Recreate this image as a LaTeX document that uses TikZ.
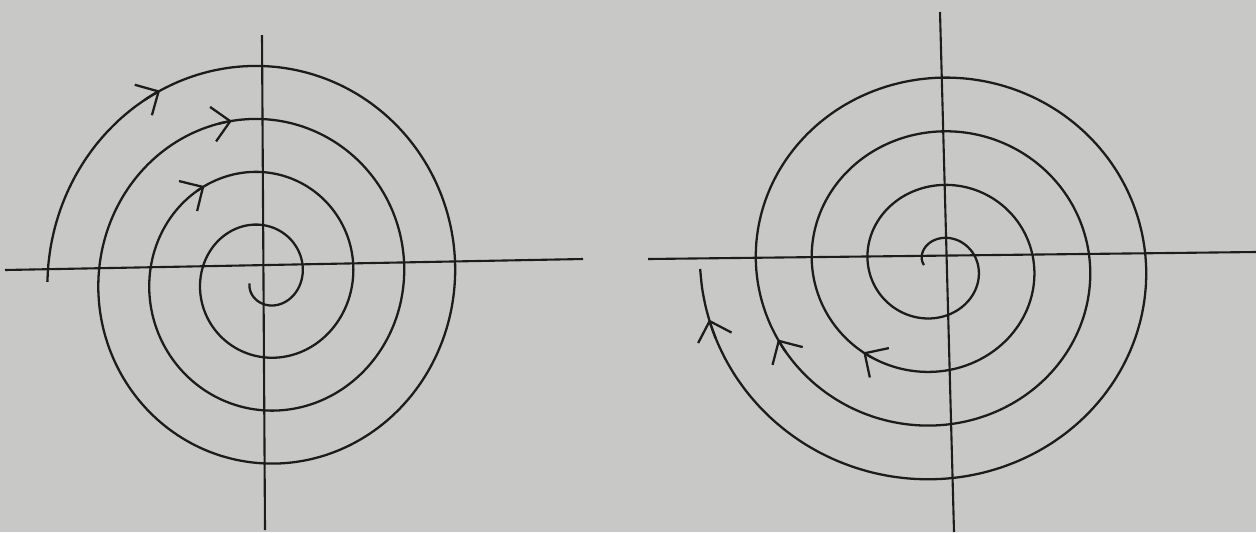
\documentclass[tikz,border=0pt]{standalone}
\usepackage{tikz}
\usetikzlibrary{arrows.meta}
\definecolor{paper}{RGB}{200,200,198}
\definecolor{ink}{RGB}{28,28,28}

\begin{document}
\begin{tikzpicture}[
  x=0.02cm, y=-0.02cm,
  >={Straight Barb[length=3.5mm, width=7mm]},
  declare function={rl(\t)=38+0.1417*\t; rr(\t)=41+0.1556*\t;},
  axis/.style={draw=ink, line width=1.2pt},
  curve/.style={draw=ink, line width=1.3pt, line join=round},
  flow/.style={curve, ->},
]
\path[use as bounding box, fill=paper] (0,0) rectangle (1256,532);

% left portrait: spiral closing in on the origin
\coordinate (lw) at (5,270);
\coordinate (le) at (583,259);
\coordinate (ln) at (262,35);
\coordinate (ls) at (265,530);
\draw[axis] (lw) -- (le);
\draw[axis] (ln) -- (ls);
\draw[curve] plot[smooth, domain=-160:1261, samples=300, variable=\t]
  ({264+rl(\t)*cos(\t)}, {278-1.04*rl(\t)*sin(\t)});
\foreach \a [evaluate=\a as \b using \a+5] in {1200,822,484}
  \draw[flow] plot[smooth, domain=\b:\a, samples=4, variable=\t]
    ({264+rl(\t)*cos(\t)}, {278-1.04*rl(\t)*sin(\t)});

% right portrait: spiral running away from the origin
\coordinate (rw) at (648,259);
\coordinate (re) at (1256,252);
\coordinate (rn) at (940,12);
\coordinate (rs) at (954,532);
\draw[axis] (rw) -- (re);
\draw[axis] (rn) -- (rs);
\draw[curve] plot[smooth, domain=-180:1259, samples=300, variable=\t]
  ({937+rr(\t)*cos(\t)}, {265+0.96*rr(\t)*sin(\t)});
\foreach \a [evaluate=\a as \b using \a-5] in {1246,874,489}
  \draw[flow] plot[smooth, domain=\b:\a, samples=4, variable=\t]
    ({937+rr(\t)*cos(\t)}, {265+0.96*rr(\t)*sin(\t)});
\end{tikzpicture}
\end{document}
